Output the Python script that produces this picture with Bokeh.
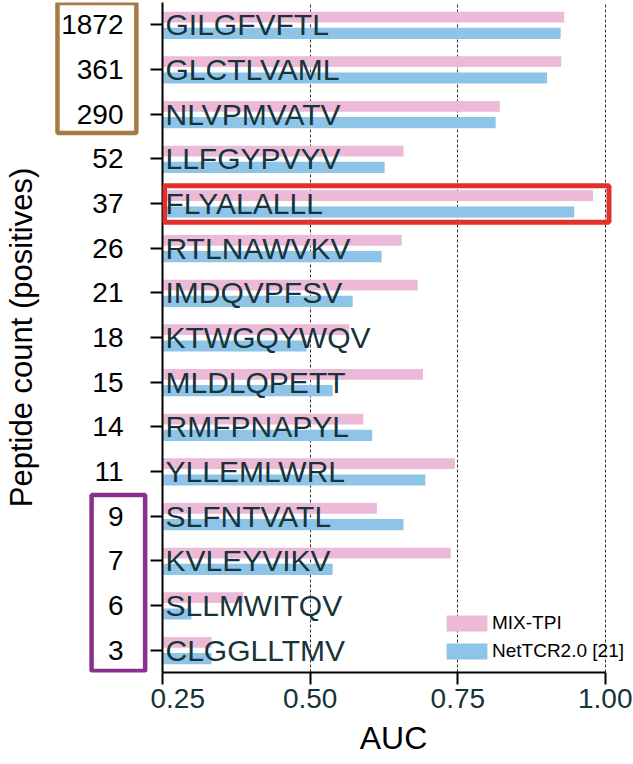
from bokeh.plotting import figure
from bokeh.layouts import row
from bokeh.models import (ColumnDataSource, BoxAnnotation, Legend, LegendItem,
                          FixedTicker, FactorRange, Range1d)
from bokeh.transform import dodge
from bokeh.core.properties import value
from bokeh.embed import file_html
from bokeh.resources import INLINE

# ---------------- data ----------------
counts = ["1872", "361", "290", "52", "37", "26", "21", "18", "15", "14",
          "11", "9", "7", "6", "3"]
peptides = ["GILGFVFTL", "GLCTLVAML", "NLVPMVATV", "LLFGYPVYV", "FLYALALLL",
            "RTLNAWVKV", "IMDQVPFSV", "KTWGQYWQV", "MLDLQPETT", "RMFPNAPYL",
            "YLLEMLWRL", "SLFNTVATL", "KVLEYVIKV", "SLLMWITQV", "CLGGLLTMV"]
mix_tpi = [0.930, 0.925, 0.821, 0.658, 0.979, 0.655, 0.682, 0.566, 0.691,
           0.590, 0.745, 0.613, 0.738, 0.387, 0.333]
nettcr = [0.924, 0.901, 0.814, 0.626, 0.947, 0.621, 0.572, 0.494, 0.538,
          0.605, 0.695, 0.658, 0.538, 0.299, 0.333]
series_names = ["MIX-TPI", "NetTCR2.0 [21]"]
x_ticks = [0.25, 0.50, 0.75, 1.00]
x_tick_labels = ["0.25", "0.50", "0.75", "1.00"]
# highlighted groups of rows: (first row, last row, colour)
highlights_left = [("1872", "290", "#a67a44"), ("9", "3", "#8a2f8c")]
highlight_main = ("37", "37", "#e2302c")

# ---------------- styling ----------------
FONT = "Liberation Sans"
PINK = "#ecb9d6"
BLUE = "#8dc4e8"
TEAL = "#17343a"
X_END = 1.0321                   # frame extends a little past 1.00 (legend room)
LEFT_RANGE = (0.035, 0.2297)     # continuation of the AUC scale left of 0.25

factors = counts[::-1]
y_range = FactorRange(factors=factors)
src = ColumnDataSource(dict(count=counts, pep=peptides, mix=mix_tpi, net=nettcr,
                            base=[x_ticks[0]] * len(counts),
                            lab=[LEFT_RANGE[1]] * len(counts)))


def hide_tick_labels(ax):
    ax.major_label_text_font_size = "0px"
    ax.major_label_text_color = None
    ax.major_label_text_alpha = 0
    ax.major_label_standoff = 0


# ---------------- main figure ----------------
p = figure(width=482, height=764, y_range=y_range,
           x_range=Range1d(x_ticks[0], X_END),
           output_backend="svg", toolbar_location=None,
           min_border_left=12, min_border_right=8,
           min_border_top=2, min_border_bottom=92)
p.outline_line_color = None

r1 = p.hbar(y=dodge("count", 0.175, range=y_range), left="base", right="mix",
            height=0.24, source=src, fill_color=PINK, line_color=None)
r2 = p.hbar(y=dodge("count", -0.19, range=y_range), left="base", right="net",
            height=0.25, source=src, fill_color=BLUE, line_color=None)

p.text(x="base", y="count", text="pep", source=src, x_offset=3,
       text_font=value(FONT), text_font_size="30px", text_color=TEAL,
       text_align="left", text_baseline="middle")

p.ygrid.visible = False
p.xgrid.ticker = FixedTicker(ticks=x_ticks[1:])
p.xgrid.grid_line_color = "#333333"
p.xgrid.grid_line_width = 1
p.xgrid.grid_line_dash = "3 2"

xa = p.xaxis[0]
xa.ticker = FixedTicker(ticks=x_ticks)
xa.bounds = (x_ticks[0], x_ticks[-1])
xa.major_label_overrides = {t: l for t, l in zip(x_ticks, x_tick_labels)}
xa.minor_tick_line_color = None
xa.major_tick_out = 12
xa.major_tick_in = 0
xa.axis_line_width = 2
xa.major_tick_line_width = 2
xa.axis_line_color = "black"
xa.major_tick_line_color = "black"
xa.major_label_text_font = FONT
xa.major_label_text_font_size = "28px"
xa.major_label_text_color = TEAL
xa.major_label_standoff = 4
xa.axis_label = "AUC"
xa.axis_label_text_font = FONT
xa.axis_label_text_font_size = "32px"
xa.axis_label_text_font_style = "normal"
xa.axis_label_text_color = "black"
xa.axis_label_standoff = 9

ya = p.yaxis[0]
ya.major_tick_out = 12
ya.major_tick_in = 0
ya.axis_line_width = 2
ya.major_tick_line_width = 2
ya.axis_line_color = "black"
ya.major_tick_line_color = "black"
hide_tick_labels(ya)

first, last, col = highlight_main
p.add_layout(BoxAnnotation(left=x_ticks[0] + 0.0034, right=x_ticks[-1] + 0.0059,
                           top=factors.index(first) + 0.5 + 0.40,
                           bottom=factors.index(last) + 0.5 - 0.42,
                           fill_color=None, fill_alpha=0,
                           line_color=col, line_alpha=1, line_width=5))

legend = Legend(items=[LegendItem(label=series_names[0], renderers=[r1]),
                       LegendItem(label=series_names[1], renderers=[r2])],
                location=(279, 9), glyph_width=51, glyph_height=20,
                label_height=24, spacing=4, padding=0, margin=0,
                label_standoff=-3, border_line_color=None,
                background_fill_alpha=0, label_text_font=FONT,
                label_text_font_size="19px", label_text_color="black")
p.add_layout(legend)

# ---------------- left strip: counts, y label, highlight boxes ----------------
pl = figure(width=150, height=764, y_range=y_range,
            x_range=Range1d(*LEFT_RANGE), x_axis_location=None,
            output_backend="svg", toolbar_location=None,
            min_border_left=35, min_border_right=0,
            min_border_top=2, min_border_bottom=92)
pl.outline_line_color = None
pl.grid.visible = False

pl.text(x="lab", y="count", text="count", source=src, x_offset=-27,
        text_font=value(FONT), text_font_size="28px", text_color="black",
        text_align="right", text_baseline="middle")

lya = pl.yaxis[0]
lya.major_tick_out = 0
lya.major_tick_in = 0
lya.axis_line_color = None
lya.major_tick_line_color = None
hide_tick_labels(lya)
lya.axis_label = "Peptide count (positives)"
lya.axis_label_text_font = FONT
lya.axis_label_text_font_size = "31px"
lya.axis_label_text_font_style = "normal"
lya.axis_label_text_color = "black"
lya.axis_label_standoff = 0

box_x = {"#a67a44": (0.068, 0.2051), "#8a2f8c": (0.1273, 0.2204)}
box_pad = {"#a67a44": (0.49, 0.42), "#8a2f8c": (0.475, 0.466)}
for first, last, col in highlights_left:
    pl.add_layout(BoxAnnotation(left=box_x[col][0], right=box_x[col][1],
                                top=factors.index(first) + 0.5 + box_pad[col][0],
                                bottom=factors.index(last) + 0.5 - box_pad[col][1],
                                fill_color=None, fill_alpha=0,
                                line_color=col, line_alpha=1, line_width=4.5))

layout = row(pl, p)
open("out.html", "w").write(file_html(layout, INLINE))
